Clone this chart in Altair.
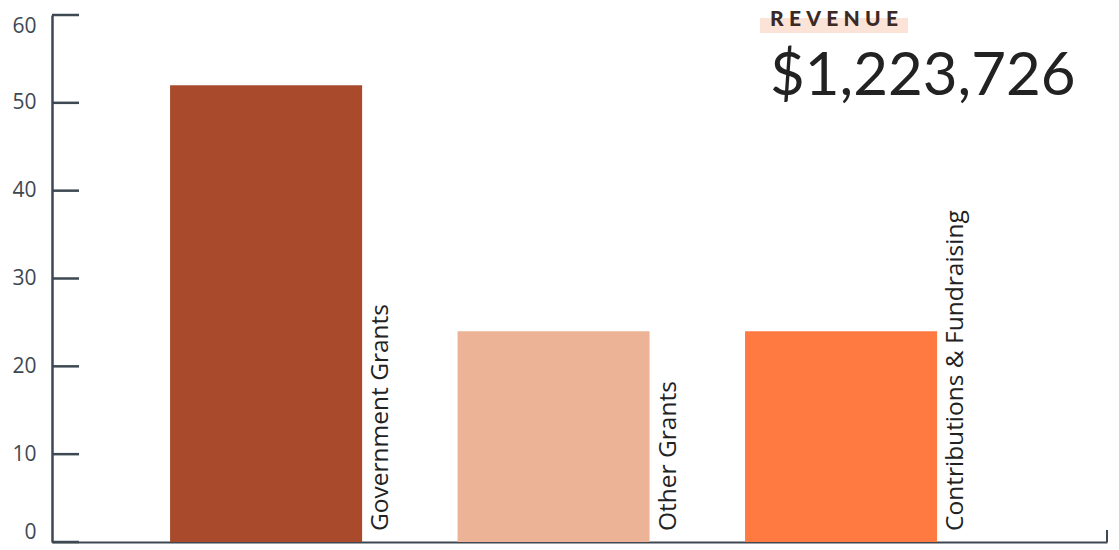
import altair as alt
import pandas as pd

categories = ["Government Grants", "Other Grants", "Contributions & Fundraising"]
values = [52, 24, 24]
bar_colors = ["#a84a2b", "#ecb396", "#ff7a40"]
y_ticks = [0, 10, 20, 30, 40, 50, 60]
headline_label = ["R\u2005E\u2005V\u2005E\u2005N\u2005U\u2005E"]
headline_value = ["$1,223,726"]

AXIS = "#3d4852"
W, H = 1055, 527

df = pd.DataFrame({"category": categories, "value": values})
ticks_df = pd.DataFrame({"tick": y_ticks})
label_df = pd.DataFrame({"t": headline_label})
value_df = pd.DataFrame({"t": headline_value})

x_scale = alt.Scale(domain=categories, paddingInner=0.332, paddingOuter=0.5009, align=0.41)
y_scale = alt.Scale(domain=[0, 60], nice=False, zero=True)

x_enc = alt.X(
    "category:N", sort=categories, scale=x_scale,
    axis=alt.Axis(title=None, labels=False, ticks=False, domain=True,
                  domainColor=AXIS, domainWidth=2, grid=False),
)
y_enc = alt.Y(
    "value:Q", scale=y_scale,
    axis=alt.Axis(title=None, values=y_ticks, ticks=False, tickSize=0, domain=True,
                  domainColor=AXIS, domainWidth=2.5, grid=False,
                  labelFont="Open Sans", labelFontSize=21, labelColor=AXIS,
                  labelPadding=16, labelFlush=True),
)

bars = alt.Chart(df).mark_bar().encode(
    x=x_enc,
    y=y_enc,
    color=alt.Color("category:N", scale=alt.Scale(domain=categories, range=bar_colors), legend=None),
)

labels = alt.Chart(df).mark_text(
    angle=270, align="left", baseline="alphabetic", dx=11, dy=26,
    font="Open Sans", fontSize=24.5, color="#222222",
).encode(
    x=alt.X("category:N", sort=categories, scale=x_scale, bandPosition=1),
    y=alt.YDatum(0),
    text="category:N",
)

tick_rules = alt.Chart(ticks_df).mark_rule(color=AXIS, strokeWidth=2.5).encode(
    y=alt.Y("tick:Q", scale=y_scale),
    x=alt.value(0),
    x2=alt.value(27),
)

end_tick = alt.Chart(label_df).mark_rule(color=AXIS, strokeWidth=2).encode(
    x=alt.value(W), y=alt.value(H - 12), y2=alt.value(H),
)

highlight = alt.Chart(label_df).mark_rect(color="#fce3d8").encode(
    x=alt.value(708), x2=alt.value(856), y=alt.value(3), y2=alt.value(18),
)

head1 = alt.Chart(label_df).mark_text(
    align="left", baseline="alphabetic",
    font="Lato", fontWeight=900, fontSize=21, color="#3a2a26",
).encode(x=alt.value(718), y=alt.value(11), text="t:N")

head2 = alt.Chart(value_df).mark_text(
    align="left", baseline="alphabetic",
    font="Lato", fontWeight=400, fontSize=60, color="#222222",
).encode(x=alt.value(718), y=alt.value(80), text="t:N")

chart = alt.layer(bars, labels, tick_rules, end_tick, highlight, head1, head2).properties(
    width=W, height=H,
    autosize=alt.AutoSizeParams(type="none"),
    padding={"left": 44, "top": 7, "right": 4, "bottom": 2},
).configure(background="white").configure_view(stroke=None)

chart.save("out.html", embed_options={"renderer": "svg", "actions": False})
